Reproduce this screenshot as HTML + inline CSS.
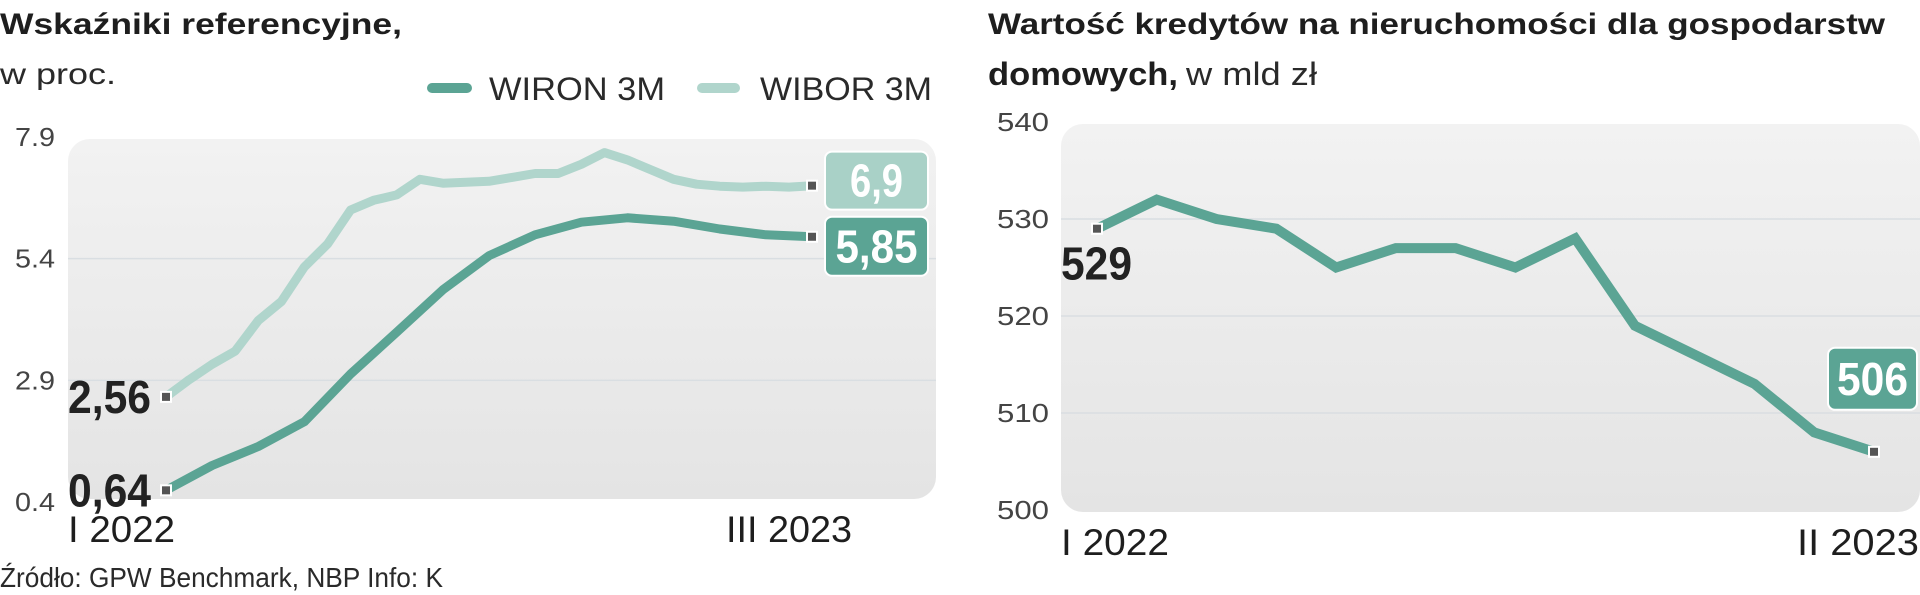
<!DOCTYPE html>
<html><head><meta charset="utf-8"><style>
html,body{margin:0;padding:0;background:#fff;}
svg{display:block;}
text{font-family:"Liberation Sans Narrow","Liberation Sans",sans-serif;}
</style></head><body>
<svg id="c" width="1920" height="595" viewBox="0 0 1920 595" xmlns="http://www.w3.org/2000/svg">
<defs>
<linearGradient id="bg" x1="0" y1="0" x2="0" y2="1"><stop offset="0" stop-color="#f2f2f2"/><stop offset="1" stop-color="#e4e4e4"/></linearGradient>
</defs>
<g>
<text x="0" y="34" font-size="30" font-weight="bold" fill="#1e1e1e" textLength="402" lengthAdjust="spacingAndGlyphs">Wskaźniki referencyjne,</text>
<text x="0" y="84" font-size="30" fill="#2a2a2a" textLength="116" lengthAdjust="spacingAndGlyphs">w proc.</text>
<line x1="432" y1="88" x2="467" y2="88" stroke="#5ba494" stroke-width="10" stroke-linecap="round"/>
<text x="489" y="100" font-size="32" fill="#2a2a2a" textLength="176" lengthAdjust="spacingAndGlyphs">WIRON 3M</text>
<line x1="702" y1="88" x2="735" y2="88" stroke="#b0d5cc" stroke-width="10" stroke-linecap="round"/>
<text x="760" y="100" font-size="32" fill="#2a2a2a" textLength="172" lengthAdjust="spacingAndGlyphs">WIBOR 3M</text>
<rect x="68" y="139" width="868" height="360" rx="22" fill="url(#bg)"/>
<g id="lgrid"></g>
<g id="llines"></g>
<text x="68" y="542" font-size="37" fill="#1e1e1e" textLength="107" lengthAdjust="spacingAndGlyphs">I 2022</text>
<text x="726" y="542" font-size="37" fill="#1e1e1e" textLength="126" lengthAdjust="spacingAndGlyphs">III 2023</text>
<text x="0" y="587" font-size="28" fill="#2a2a2a" textLength="443" lengthAdjust="spacingAndGlyphs">Źródło: GPW Benchmark, NBP  Info: K</text>
</g>
<g>
<text x="988" y="34" font-size="30" font-weight="bold" fill="#1e1e1e" textLength="897" lengthAdjust="spacingAndGlyphs">Wartość kredytów na nieruchomości dla gospodarstw</text>
<text x="988" y="85" font-size="32" font-weight="bold" fill="#1e1e1e" textLength="190" lengthAdjust="spacingAndGlyphs">domowych,</text>
<text x="1186" y="85" font-size="32" fill="#2a2a2a" textLength="131" lengthAdjust="spacingAndGlyphs">w mld zł</text>
<rect x="1061" y="124" width="859" height="388" rx="22" fill="url(#bg)"/>
<g id="rgrid"></g>
<g id="rlines"></g>
<text x="1061" y="555" font-size="37" fill="#1e1e1e" textLength="108" lengthAdjust="spacingAndGlyphs">I 2022</text>
<text x="1797" y="555" font-size="37" fill="#1e1e1e" textLength="122" lengthAdjust="spacingAndGlyphs">II  2023</text>
</g>
</svg>
<script>
const leftTicks = [0.4, 2.9, 5.4, 7.9];
const wironValues = [0.64,1.15,1.54,2.05,3.03,3.89,4.76,5.46,5.89,6.15,6.24,6.17,6.01,5.89,5.85];
const wiborValues = [2.56,2.91,3.23,3.50,4.13,4.52,5.23,5.70,6.40,6.60,6.71,7.03,6.95,6.97,6.99,7.07,7.15,7.15,7.34,7.58,7.43,7.23,7.03,6.93,6.89,6.87,6.89,6.87,6.90];
const wironLabels = ["0,64","5,85"];
const wiborLabels = ["2,56","6,9"];
const rightTicks = [500,510,520,530,540];
const creditValues = [529,532,530,529,525,527,527,525,528,519,516,513,508,506];
const creditLabels = ["529","506"];

const NS="http://www.w3.org/2000/svg";
function mk(tag, attrs, parent){const e=document.createElementNS(NS,tag);for(const k in attrs)e.setAttribute(k,attrs[k]);parent.appendChild(e);return e;}

const lx0=166, lx1=812;
const ly=v=>502-(v-0.4)/7.5*365;
const lxs=(i,n)=>lx0+(lx1-lx0)*i/(n-1);
const lg=document.getElementById('lgrid');
leftTicks.forEach(t=>{
  if(t>0.4&&t<7.9){const l=mk('line',{x1:68,x2:936,y1:ly(t),y2:ly(t),stroke:'#d9dee2','stroke-width':1.5},lg);
  
  }
  const tx=mk('text',{x:15,y:ly(t)+9,'font-size':26,fill:'#444',textLength:40,lengthAdjust:'spacingAndGlyphs'},lg);tx.textContent=String(t);
  
  
});
const ll=document.getElementById('llines');
function series(vals,color,name){
  const d=vals.map((v,i)=>(i?'L':'M')+lxs(i,vals.length).toFixed(1)+','+ly(v).toFixed(1)).join(' ');
  const p=mk('path',{d:d,fill:'none',stroke:color,'stroke-width':9,'stroke-linejoin':'round','stroke-linecap':'round'},ll);
  
  
}
series(wiborValues,'#b0d5cc','wibor-line');
series(wironValues,'#5ba494','wiron-line');
function dot(x,y,parent,name){const r=mk('rect',{x:x-5,y:y-5,width:10,height:10,fill:'#555',stroke:'#fff','stroke-width':2},parent);
  
  }
function startLabel(txt,x,y,w,parent,name){const t=mk('text',{x:x,y:y,'font-size':46,'font-weight':'bold',fill:'#222',textLength:w,lengthAdjust:'spacingAndGlyphs'},parent);t.textContent=txt;
  
  }
function box(txt,x,y,w,h,tw,fill,parent,name){
  const g=mk('g',{},parent);
  
  
  mk('rect',{x:x,y:y,width:w,height:h,rx:7,fill:fill,stroke:'#fff','stroke-width':2},g);
  const t=mk('text',{x:x+(w-tw)/2,y:y+h/2+16,'font-size':46,'font-weight':'bold',fill:'#fff',textLength:tw,lengthAdjust:'spacingAndGlyphs'},g);t.textContent=txt;
}
const wiS=ly(wironValues[0]), wiE=ly(wironValues[wironValues.length-1]);
const wbS=ly(wiborValues[0]), wbE=ly(wiborValues[wiborValues.length-1]);
dot(lx0,wbS,ll,'wibor-start-marker');dot(lx1,wbE,ll,'wibor-end-marker');
dot(lx0,wiS,ll,'wiron-start-marker');dot(lx1,wiE,ll,'wiron-end-marker');
startLabel(wiborLabels[0],68,wbS+16,83,ll,'wibor-start-label');
startLabel(wironLabels[0],68,wiS+16,83,ll,'wiron-start-label');
box(wiborLabels[1],825,wbE-34,103,58,53,'#a9d1c7',ll,'wibor-end-label');
box(wironLabels[1],825,wiE-20,103,59,82,'#5ba494',ll,'wiron-end-label');

const rx0=1097, rx1=1874;
const ry=v=>510-(v-500)*9.7;
const rxs=i=>rx0+(rx1-rx0)*i/(creditValues.length-1);
const rg=document.getElementById('rgrid');
rightTicks.forEach(t=>{
  if(t>500&&t<540){const l=mk('line',{x1:1061,x2:1920,y1:ry(t),y2:ry(t),stroke:'#d9dee2','stroke-width':1.5},rg);
  
  }
  const tx=mk('text',{x:997,y:ry(t)+9,'font-size':26,fill:'#444',textLength:52,lengthAdjust:'spacingAndGlyphs'},rg);tx.textContent=String(t);
  
  
});
const rl=document.getElementById('rlines');
const rd=creditValues.map((v,i)=>(i?'L':'M')+rxs(i).toFixed(1)+','+ry(v).toFixed(1)).join(' ');
const rp=mk('path',{d:rd,fill:'none',stroke:'#5ba494','stroke-width':10,'stroke-linejoin':'miter'},rl);


const cS=ry(creditValues[0]), cE=ry(creditValues[creditValues.length-1]);
dot(rx0,cS,rl,'credit-start-marker');dot(rx1,cE,rl,'credit-end-marker');
startLabel(creditLabels[0],1061,cS+51,71,rl,'credit-start-label');
box(creditLabels[1],1828,cE-104,89,62,71,'#5ba494',rl,'credit-end-label');
</script>
</body></html>
